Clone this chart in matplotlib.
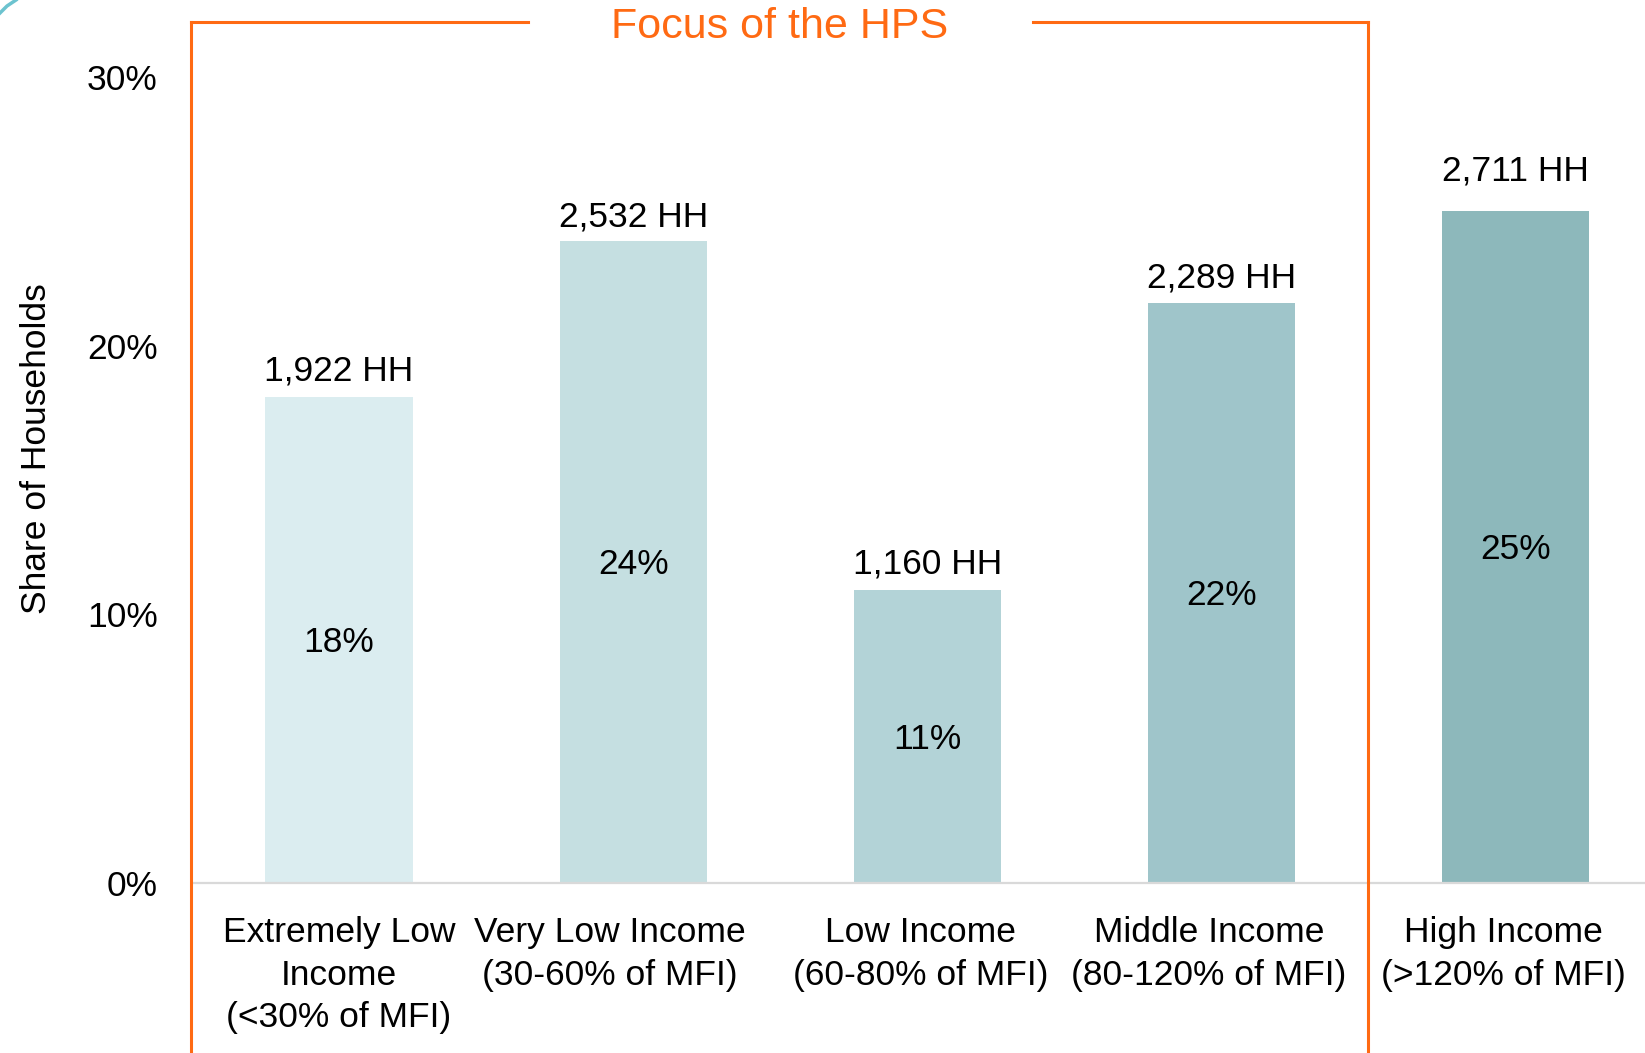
import numpy as np
import matplotlib
matplotlib.use("Agg")
import matplotlib.pyplot as plt
from matplotlib.lines import Line2D
from matplotlib.transforms import ScaledTranslation

plt.rcParams['font.family'] = ['Liberation Sans', 'DejaVu Sans']

# data
categories = ["Extremely Low\nIncome\n(<30% of MFI)",
              "Very Low Income\n(30-60% of MFI)",
              "Low Income\n(60-80% of MFI)",
              "Middle Income\n(80-120% of MFI)",
              "High Income\n(>120% of MFI)"]
shares = [18.1, 23.9, 10.9, 21.6, 25.0]
households = [1922, 2532, 1160, 2289, 2711]
bar_colors = ["#dbedf0", "#c5dfe1", "#b3d3d7", "#9fc5ca", "#8db8bb"]

orange = "#ff6a13"
W, H = 1645, 1053

def fx(px):
    return px / W

def fy(py):
    return 1 - py / H

fig = plt.figure(figsize=(W / 100, H / 100), dpi=100)
ax = fig.add_axes([fx(194), fy(883), fx(1645 - 194), 806 / H])

x = np.arange(len(categories))
ax.bar(x, shares, width=0.5, color=bar_colors)
ax.set_xlim(-0.493, 4.44)
ax.set_ylim(0, 30)

ax.set_yticks([0, 10, 20, 30])
ax.set_yticklabels(["0%", "10%", "20%", "30%"])
ax.set_xticks(x)
ax.set_xticklabels(categories, linespacing=1.36)
ax.tick_params(axis='y', length=0, pad=26, labelsize=25.5)
ax.tick_params(axis='x', length=0, pad=24, labelsize=25.5)

# category labels sit slightly left of the bar centres in the original
label_shift = [0, -17, -5, -9, -9]
for lab, dx in zip(ax.get_xticklabels(), label_shift):
    lab.set_transform(lab.get_transform() + ScaledTranslation(dx / 72, 0, fig.dpi_scale_trans))

for s in ['top', 'right', 'left']:
    ax.spines[s].set_visible(False)
ax.spines['bottom'].set_color('#d9d9d9')
ax.spines['bottom'].set_linewidth(1.6)

total = sum(households)
for xi, sh, hh in zip(x, shares, households):
    ax.annotate(f"{hh:,} HH", (xi, hh / total * 100), xytext=(0, 11.5),
                textcoords='offset points', ha='center', va='baseline', fontsize=25.5)
    ax.annotate(f"{round(sh)}%", (xi, sh / 2), xytext=(0, -2), textcoords='offset points',
                ha='center', va='center', fontsize=25.5)

fig.text(fx(37), fy(449), "Share of Households", rotation=90,
         ha='center', va='center', fontsize=25.5)

# orange "focus" bracket
lw = 2.2
for xs, ys in [([191, 191], [22, 1053]),
               ([191, 528], [22, 22]),
               ([1033, 1368], [22, 22]),
               ([1368, 1368], [22, 1053])]:
    fig.add_artist(Line2D([fx(v) for v in xs], [fy(v) for v in ys],
                          color=orange, lw=lw, solid_capstyle='projecting'))
fig.text(fx(780), fy(27), "Focus of the HPS", color=orange,
         ha='center', va='center', fontsize=31)

# small teal corner decoration
fig.add_artist(Line2D([fx(0), fx(7), fx(16)], [fy(13), fy(6), fy(0)],
                      color="#6cc3cf", lw=2.5))

fig.savefig("out.png", dpi=100)
